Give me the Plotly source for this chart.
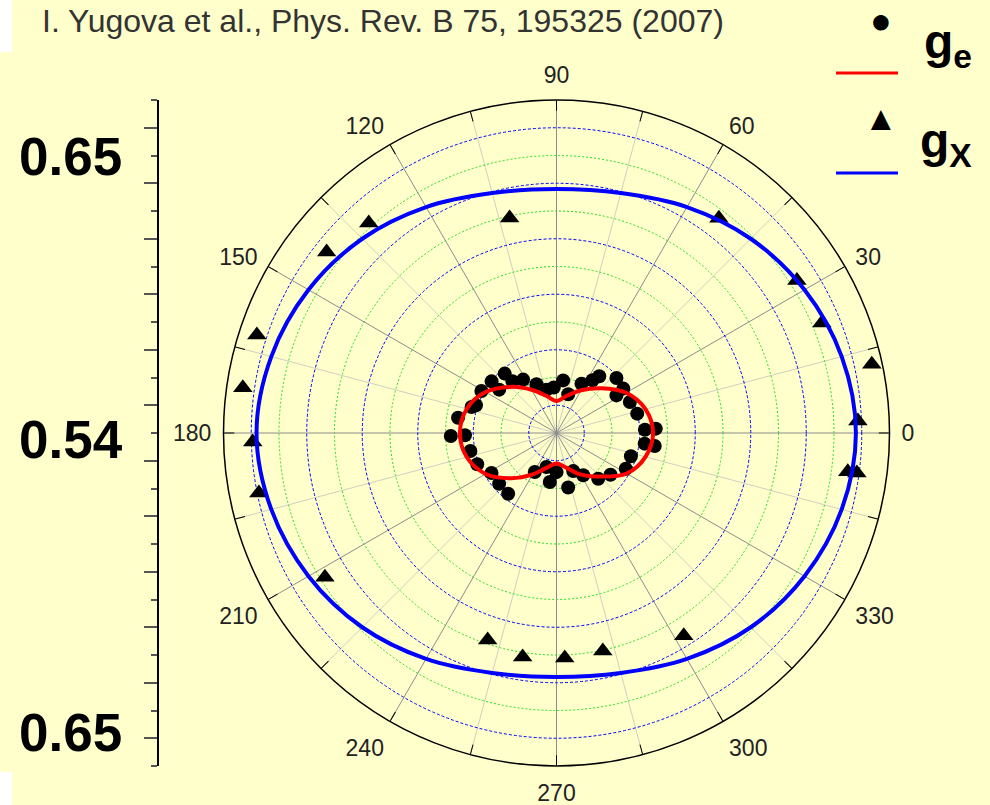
import plotly.graph_objects as go

# ---------------- data ----------------
# fitted curves, read every 15 degrees (radial units = grid circles from the centre)
fit_theta = [0, 15, 30, 45, 60, 75, 90, 105, 120, 135, 150, 165,
             180, 195, 210, 225, 240, 255, 270, 285, 300, 315, 330, 345]
ge_fit = [3.48, 3.32, 2.90, 2.28, 1.78, 1.38, 1.15, 1.38, 1.80, 2.35, 2.95, 3.35,
          3.48, 3.35, 2.95, 2.30, 1.72, 1.28, 1.10, 1.28, 1.72, 2.22, 2.92, 3.32]
gx_fit = [10.79, 10.64, 10.32, 9.90, 9.40, 8.95, 8.79, 8.95, 9.40, 9.90, 10.32, 10.64,
          10.81, 10.64, 10.32, 9.90, 9.40, 8.95, 8.79, 8.95, 9.40, 9.90, 10.32, 10.64]

# measured electron g-factor points
ge_theta = [150.8, 141.5, 142.9, 131.1, 130.4, 122.0, 112.3, 103.0, 93.4, 82.8, 73.2,
            63.1, 55.7, 53.0, 42.5, 33.6, 32.1, 22.9, 13.5, 2.1, 2.5, 353.1, 352.5,
            342.6, 332.7, 322.3, 312.4, 302.3, 293.7, 282.1, 270.0, 262.2, 253.6,
            240.9, 231.5, 221.5, 211.6, 201.5, 191.8, 181.4, 181.6, 171.2, 163.0, 161.0]
ge_r = [3.10, 2.99, 2.59, 2.84, 2.45, 2.27, 1.90, 1.60, 1.64, 1.91, 1.46,
        1.99, 2.30, 2.56, 2.93, 2.89, 2.55, 2.87, 2.99, 3.19, 3.58, 3.20, 3.57,
        2.81, 2.81, 2.46, 2.23, 1.80, 1.50, 2.01, 1.41, 1.78, 1.28,
        1.61, 2.80, 2.76, 2.75, 3.07, 3.17, 3.30, 3.81, 3.59, 3.20, 3.07]

# measured exciton g-factor points
gx_theta = [102.3, 131.8, 141.8, 161.9, 171.8, 181.7, 191.4, 211.9, 251.6, 261.4,
            272.1, 282.0, 302.1, 352.4, 352.4, 2.3, 12.3, 22.5, 32.4, 52.9]
gx_r = [7.93, 10.15, 10.54, 11.36, 11.42, 10.95, 10.94, 9.83, 7.86, 8.16,
        8.11, 8.03, 8.63, 10.59, 10.92, 10.87, 11.63, 10.35, 10.26, 9.70]

angle_ticks = list(range(0, 360, 15))
angle_major = [a for a in angle_ticks if a % 30 == 0]
angle_minor = [a for a in angle_ticks if a % 30 != 0]
angle_labels = [str(a) for a in angle_major]
circles_green = [2, 4, 6, 8, 10]
circles_blue = [1, 3, 5, 7, 9, 11]
r_max = 12

side_labels = ["0.65", "0.54", "0.65"]
side_label_pos = [9.95, -0.25, -10.8]

title_text = "I. Yugova et al., Phys. Rev. B 75, 195325 (2007)"

# ---------------- layout helpers ----------------
W, H = 990, 805
BG = "#FFFFCC"
FONT = "Liberation Sans, Arial, sans-serif"


def px(x):
    return x / W


def py(y):
    return 1 - y / H


dom_x = [px(223), px(890)]
dom_y = [py(766), py(100)]

fig = go.Figure()

# empty traces so that the underlying polar layers get drawn
fig.add_trace(go.Scatterpolar(r=[None], theta=[None], subplot="polar",
                              showlegend=False, hoverinfo="skip"))
fig.add_trace(go.Scatterpolar(r=[None], theta=[None], subplot="polar3",
                              showlegend=False, hoverinfo="skip"))

# markers first, lines on top
fig.add_trace(go.Scatterpolar(r=ge_r, theta=ge_theta, mode="markers", subplot="polar2",
                              marker=dict(symbol="circle", size=14, color="black"),
                              showlegend=False, hoverinfo="skip"))
fig.add_trace(go.Scatterpolar(r=gx_r, theta=gx_theta, mode="markers", subplot="polar2",
                              marker=dict(symbol="triangle-up", size=17, color="black"),
                              showlegend=False, hoverinfo="skip"))
fig.add_trace(go.Scatterpolar(r=ge_fit + ge_fit[:1], theta=fit_theta + fit_theta[:1],
                              mode="lines", subplot="polar2",
                              line=dict(color="#ff0000", width=4, shape="spline"),
                              showlegend=False, hoverinfo="skip"))
fig.add_trace(go.Scatterpolar(r=gx_fit + gx_fit[:1], theta=fit_theta + fit_theta[:1],
                              mode="lines", subplot="polar2",
                              line=dict(color="#0000ff", width=4, shape="spline"),
                              showlegend=False, hoverinfo="skip"))

# dummy trace so the left (radial-scale) axis is drawn
fig.add_trace(go.Scatter(x=[None], y=[None], xaxis="x", yaxis="y",
                         showlegend=False, hoverinfo="skip"))

hidden_radial = dict(range=[0, r_max], showticklabels=False, ticks="", showline=False,
                     showgrid=False)

fig.update_layout(
    width=W, height=H,
    margin=dict(l=0, r=0, t=0, b=0),
    paper_bgcolor=BG,
    plot_bgcolor="rgba(0,0,0,0)",
    font=dict(family=FONT, color="#222"),
    showlegend=False,
    polar=dict(
        domain=dict(x=dom_x, y=dom_y),
        bgcolor=BG,
        radialaxis=dict(range=[0, r_max], tickvals=circles_green, showticklabels=False,
                        ticks="", showline=False, gridcolor="#22dd22", gridwidth=1,
                        griddash="2px,2px"),
        angularaxis=dict(rotation=0, direction="counterclockwise",
                         tickvals=angle_minor,
                         showticklabels=False, ticks="inside", ticklen=10,
                         tickcolor="black", tickwidth=1.2,
                         showline=False, gridcolor="#cfcfc0", gridwidth=1),
    ),
    polar2=dict(
        domain=dict(x=dom_x, y=dom_y),
        bgcolor="rgba(0,0,0,0)",
        radialaxis=dict(range=[0, r_max], tickvals=circles_blue, showticklabels=False,
                        ticks="", showline=False, gridcolor="#0000ff", gridwidth=1,
                        griddash="3px,2px"),
        angularaxis=dict(rotation=0, direction="counterclockwise",
                         tickvals=angle_major, showticklabels=False,
                         ticks="inside", ticklen=10, tickcolor="black", tickwidth=1.2,
                         showline=True, linecolor="black", linewidth=1.5,
                         gridcolor="#8c8c8c", gridwidth=1),
    ),
    # label-only layer: invisible outside ticks push the labels away from the rim
    polar3=dict(
        domain=dict(x=dom_x, y=dom_y),
        bgcolor="rgba(0,0,0,0)",
        radialaxis=hidden_radial,
        angularaxis=dict(rotation=0, direction="counterclockwise",
                         tickvals=angle_major, ticktext=angle_labels,
                         ticks="outside", ticklen=7, tickcolor="rgba(0,0,0,0)",
                         showline=False, showgrid=False,
                         tickfont=dict(size=23, color="#222", family=FONT)),
    ),
    xaxis=dict(domain=[0, px(158)], range=[0, 1], visible=False, fixedrange=True),
    yaxis=dict(domain=dom_y, range=[-r_max, r_max], anchor="free", position=px(158),
               side="left", showline=True, linecolor="black", linewidth=2,
               ticks="outside", tickvals=[v for b in circles_blue for v in (b, -b)],
               ticklen=13, tickwidth=2, tickcolor="#555",
               minor=dict(tickvals=[0, r_max, -r_max] + [v for g in circles_green for v in (g, -g)],
                          ticks="outside", ticklen=6, tickwidth=2, tickcolor="#555"),
               showticklabels=False, showgrid=False, zeroline=False, fixedrange=True),
)

annotations = [
    dict(text=title_text, x=px(40), y=py(21), xref="paper", yref="paper",
         xanchor="left", yanchor="middle", showarrow=False,
         font=dict(size=32, color="#333", family=FONT)),
]
for lab, pos in zip(side_labels, side_label_pos):
    annotations.append(dict(text="<b>%s</b>" % lab, x=px(17), y=pos, xref="paper", yref="y",
                            xanchor="left", yanchor="middle", showarrow=False,
                            font=dict(size=53, color="black", family=FONT)))
# legend
annotations += [
    dict(text="●", x=px(881), y=py(20), xref="paper", yref="paper", showarrow=False,
         xanchor="center", yanchor="middle", font=dict(size=36, color="black")),
    dict(text="<b>g<sub>e</sub></b>", x=px(922), y=py(45), xref="paper", yref="paper",
         showarrow=False, xanchor="left", yanchor="middle",
         font=dict(size=48, color="black", family=FONT)),
    dict(text="▲", x=px(881), y=py(118), xref="paper", yref="paper", showarrow=False,
         xanchor="center", yanchor="middle", font=dict(size=34, color="black")),
    dict(text="<b>g<sub>X</sub></b>", x=px(918), y=py(144), xref="paper", yref="paper",
         showarrow=False, xanchor="left", yanchor="middle",
         font=dict(size=48, color="black", family=FONT)),
]
fig.update_layout(annotations=annotations)

fig.update_layout(shapes=[
    dict(type="line", xref="paper", yref="paper", x0=px(836), x1=px(898), y0=py(73), y1=py(73),
         line=dict(color="#ff0000", width=3)),
    dict(type="line", xref="paper", yref="paper", x0=px(836), x1=px(898), y0=py(173), y1=py(173),
         line=dict(color="#0000ff", width=3)),
    dict(type="rect", xref="paper", yref="paper", x0=0, x1=px(12), y0=py(52), y1=1,
         line=dict(width=0), fillcolor="white", layer="below"),
    dict(type="rect", xref="paper", yref="paper", x0=0, x1=px(12), y0=0, y1=py(772),
         line=dict(width=0), fillcolor="white", layer="below"),
])

fig.write_html("out.html", config={"displayModeBar": False},
               post_script="document.body.style.margin='0px';document.body.style.overflow='hidden';")
